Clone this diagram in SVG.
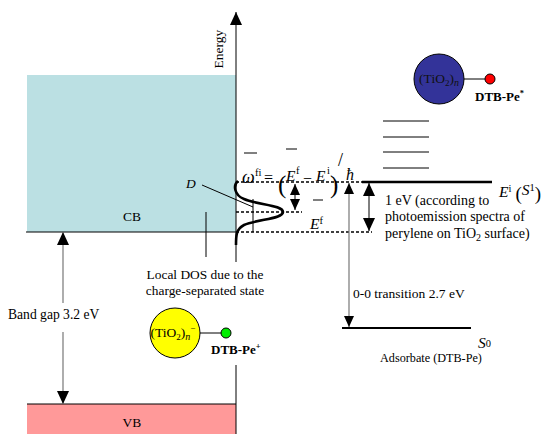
<svg xmlns="http://www.w3.org/2000/svg" width="544" height="434" viewBox="0 0 544 434" font-family="'Liberation Serif', 'Times New Roman', serif">
<style>
text, tspan { font-family: 'Liberation Serif', 'Times New Roman', serif; }
.b{font-weight:bold}
.it{font-style:italic}
.ln{stroke:#000;stroke-width:1;fill:none}
.gl{stroke:#777;stroke-width:1.2;fill:none}
.dash{stroke:#000;stroke-width:1.4;stroke-dasharray:3 2;fill:none}
.thick{stroke:#000;stroke-width:2.5;fill:none}
</style>
<defs>
<marker id="ah" viewBox="0 0 13 12" refX="13" refY="6" markerWidth="13" markerHeight="12" markerUnits="userSpaceOnUse" orient="auto-start-reverse"><path d="M0,0L13,6L0,12z" fill="#000"/></marker>
<marker id="as" viewBox="0 0 11 10" refX="11" refY="5" markerWidth="11" markerHeight="10" markerUnits="userSpaceOnUse" orient="auto-start-reverse"><path d="M0,0L11,5L0,10z" fill="#000"/></marker>
</defs>

<g id="cb">
<rect x="27" y="75" width="209" height="157" fill="#bbe0e3"/>
<line class="ln" x1="26" y1="232" x2="236" y2="232"/>
<text x="132" y="221" text-anchor="middle" font-size="13.5">CB</text>
</g>
<g id="vb">
<rect x="27" y="404" width="209" height="30" fill="#ff9999"/>
<line class="ln" x1="27" y1="404" x2="236" y2="404"/>
<text x="132" y="427" text-anchor="middle" font-size="13.5">VB</text>
</g>

<g id="connectors">
<line class="ln" x1="236" y1="434" x2="236" y2="365"/>
<line class="ln" x1="236" y1="262" x2="236" y2="12" marker-end="url(#ah)"/>
<line class="gl" x1="63" y1="303" x2="63" y2="232" marker-end="url(#ah)"/>
<line class="gl" x1="63" y1="332" x2="63" y2="404" marker-end="url(#ah)"/>
<line class="dash" x1="236" y1="182" x2="362" y2="182"/>
<line class="dash" x1="236" y1="212" x2="302" y2="212"/>
<line class="dash" x1="236" y1="232" x2="372" y2="232"/>
<line class="thick" x1="362" y1="182" x2="492" y2="182"/>
<line x1="342" y1="328" x2="471" y2="328" stroke="#000" stroke-width="2"/>
<line class="ln" x1="295" y1="184" x2="295" y2="210" marker-start="url(#as)" marker-end="url(#as)"/>
<line class="ln" x1="369" y1="183" x2="369" y2="231" marker-start="url(#ah)" marker-end="url(#ah)"/>
<line class="gl" x1="349" y1="327" x2="349" y2="183" marker-start="url(#as)" marker-end="url(#as)"/>
<line class="ln" x1="206" y1="212" x2="206" y2="257"/>
<line class="ln" x1="253" y1="199" x2="253" y2="232"/>
<line class="ln" x1="202" y1="185" x2="253" y2="207"/>
<path d="M238,181 C233,185 234,195 244,199 C258,205 283,205 283,212 C283,219 258,219 244,225 C236,229 236,236 236,245" stroke="#000" stroke-width="2.6" fill="none"/>
<g class="ln" stroke-width="1.3">
<line x1="383" y1="121" x2="429" y2="121"/>
<line x1="383" y1="137" x2="429" y2="137"/>
<line x1="383" y1="152" x2="429" y2="152"/>
<line x1="383" y1="168" x2="429" y2="168"/>
</g>
<line class="ln" x1="195" y1="333" x2="226" y2="333"/>
<line class="ln" x1="464" y1="79" x2="490" y2="79"/>
</g>

<g id="energy-label">
<text font-size="13.5" transform="translate(223,49) rotate(-90)" text-anchor="middle">Energy</text>
</g>

<g id="formula" font-size="15">
<text x="242" y="183" class="it" font-size="18">ω</text>
<text x="255" y="176" font-size="10.5">fi</text>
<text x="264" y="183" font-size="16">=</text>
<text x="278" y="193" font-size="25">(</text>
<text x="286" y="181" class="it" font-size="15.5">E</text>
<text x="296" y="174" font-size="10.5">f</text>
<text x="303" y="184" font-size="16">−</text>
<text x="316" y="181" class="it" font-size="15.5">E</text>
<text x="327" y="174" font-size="10.5">i</text>
<text x="330" y="193" font-size="25">)</text>
<text x="338" y="166" font-size="18">/</text>
<text x="346" y="180" class="it" font-size="16">ħ</text>
<line class="ln" x1="244" y1="153" x2="257" y2="153" stroke-width="1.2"/>
<line class="ln" x1="286" y1="149" x2="297" y2="149" stroke-width="1.2"/>
<line class="ln" x1="313" y1="200" x2="323" y2="200" stroke-width="1.2"/>
</g>

<g id="labels">
<text class="it" x="186" y="188" font-size="13.5">D</text>
<text x="205" y="279" text-anchor="middle" font-size="13.4">Local DOS due to the</text>
<text x="205" y="295" text-anchor="middle" font-size="13.4">charge-separated state</text>
<text x="8" y="319" font-size="13.6">Band gap 3.2 eV</text>
<text x="310" y="229"><tspan class="it" font-size="15.5">E</tspan><tspan font-size="10.5" dy="-5">f</tspan></text>
<text x="499" y="197"><tspan class="it" font-size="15.5">E</tspan><tspan font-size="10.5" dy="-5">i</tspan><tspan font-size="19" dy="8" dx="4">(</tspan><tspan class="it" font-size="15.5" dy="-5">S</tspan><tspan font-size="10.5" dy="-4">1</tspan><tspan font-size="19" dy="9">)</tspan></text>
<text x="385" y="205" font-size="14">1 eV (according to</text>
<text x="385" y="221" font-size="14">photoemission spectra of</text>
<text x="385" y="238" font-size="14">perylene on TiO<tspan font-size="10" dy="3">2</tspan><tspan dy="-3"> surface)</tspan></text>
<text x="353" y="298" font-size="13.5">0-0 transition 2.7 eV</text>
<text x="478" y="348"><tspan class="it" font-size="15.5">S</tspan><tspan font-size="10.5" dy="-1">0</tspan></text>
<text x="380" y="362" font-size="12.2">Adsorbate (DTB-Pe)</text>
</g>

<g id="tio2-excited">
<circle cx="439" cy="79" r="25" fill="#333399" stroke="#000" stroke-width="1"/>
<text x="439" y="83" text-anchor="middle" font-size="13.5" fill="#111">(TiO<tspan font-size="9" dy="3">2</tspan><tspan dy="-3">)</tspan><tspan class="it" font-size="10" dy="3">n</tspan></text>
<circle cx="490" cy="79" r="5" fill="#ff0000" stroke="#000" stroke-width="1"/>
<text class="b" x="475" y="101" font-size="13">DTB-Pe<tspan font-size="8.5" dy="-5">*</tspan></text>
</g>

<g id="tio2-separated">
<circle cx="175" cy="333" r="25" fill="#ffff00" stroke="#000" stroke-width="1"/>
<text x="173" y="337" text-anchor="middle" font-size="13.5">(TiO<tspan font-size="9" dy="3">2</tspan><tspan dy="-3">)</tspan><tspan class="it" font-size="10" dy="3">n</tspan><tspan font-size="9" dy="-9">−</tspan></text>
<circle cx="226" cy="333" r="5" fill="#00ee00" stroke="#000" stroke-width="1"/>
<text class="b" x="211" y="354" font-size="13">DTB-Pe<tspan font-size="8.5" dy="-5">+</tspan></text>
</g>
</svg>
